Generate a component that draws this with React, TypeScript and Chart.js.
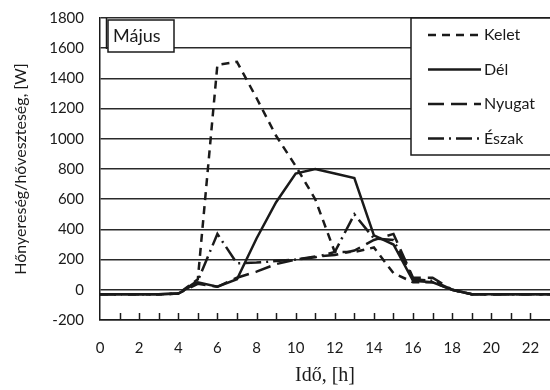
import React, { useEffect, useRef } from "react";
import { Chart, registerables } from "chart.js";
Chart.register(...registerables);

const hours = [0, 1, 2, 3, 4, 5, 6, 7, 8, 9, 10, 11, 12, 13, 14, 15, 16, 17, 18, 19, 20, 21, 22, 23];
const kelet = [-30, -30, -30, -30, -25, 70, 1490, 1510, 1270, 1020, 820, 600, 250, 250, 280, 110, 50, 50, 0, -30, -30, -30, -30, -30];
const del = [-30, -30, -30, -30, -25, 50, 20, 70, 340, 580, 770, 800, 770, 740, 360, 300, 60, 50, 0, -30, -30, -30, -30, -30];
const nyugat = [-30, -30, -30, -30, -25, 40, 20, 80, 120, 170, 200, 220, 230, 260, 330, 370, 80, 80, 0, -30, -30, -30, -30, -30];
const eszak = [-30, -30, -30, -30, -25, 60, 370, 175, 180, 190, 200, 215, 250, 500, 340, 330, 70, 60, 0, -30, -30, -30, -30, -30];
const seriesNames = ["Kelet", "Dél", "Nyugat", "Észak"];
const dashes = [[8, 6], [], [16, 7], [16, 5, 2, 5]];
const xTickLabels = [0, 2, 4, 6, 8, 10, 12, 14, 16, 18, 20, 22];
const yTickMin = -200;
const yTickMax = 1800;
const yStep = 200;
const boxLabel = "Május";
const yTitle = "Hőnyereség/hőveszteség, [W]";
const xTitle = "Idő, [h]";

const INK = "#1a1a1a";
const SANS = "Lato, 'Open Sans', sans-serif";

const decorPlugin = {
  id: "decor",
  afterDatasetsDraw(chart: any) {
    const { ctx, chartArea, scales } = chart;
    const xs = scales.x;
    ctx.save();
    ctx.strokeStyle = INK;
    ctx.lineWidth = 1.5;
    for (let h = 1; h <= 22; h++) {
      const px = Math.round(xs.getPixelForValue(h)) + 0.5;
      ctx.beginPath();
      ctx.moveTo(px, chartArea.bottom);
      ctx.lineTo(px, chartArea.bottom - 7);
      ctx.stroke();
    }
    const mx = chartArea.left + 8;
    const my = chartArea.top + 2;
    ctx.fillStyle = "#fff";
    ctx.fillRect(mx, my, 66, 32);
    ctx.lineWidth = 1.5;
    ctx.strokeStyle = INK;
    ctx.strokeRect(mx, my, 66, 32);
    ctx.beginPath();
    ctx.moveTo(mx - 1.5, chartArea.top);
    ctx.lineTo(mx - 1.5, my + 29);
    ctx.stroke();
    ctx.fillStyle = INK;
    ctx.font = `18px ${SANS}`;
    ctx.textBaseline = "middle";
    ctx.textAlign = "left";
    ctx.fillText(boxLabel, mx + 5, my + 16);
    const lx = chartArea.right - 139;
    const ly = chartArea.top;
    ctx.fillStyle = "#fff";
    ctx.fillRect(lx, ly, 140, 137);
    ctx.strokeStyle = INK;
    ctx.lineWidth = 1.5;
    ctx.strokeRect(lx, ly, 140, 137);
    ctx.font = `16px ${SANS}`;
    chart.data.datasets.forEach((ds: any, i: number) => {
      const yy = ly + 17 + i * 34.5;
      ctx.strokeStyle = INK;
      ctx.lineWidth = 2.5;
      ctx.setLineDash(ds.borderDash || []);
      ctx.beginPath();
      ctx.moveTo(lx + 17, yy);
      ctx.lineTo(lx + 70, yy);
      ctx.stroke();
      ctx.setLineDash([]);
      ctx.fillStyle = INK;
      ctx.fillText(ds.label, lx + 73, yy);
    });
    ctx.restore();
  },
};

export default function App() {
  const ref = useRef<HTMLCanvasElement | null>(null);
  useEffect(() => {
    if (!ref.current) return;
    const series = [kelet, del, nyugat, eszak];
    const chart = new Chart(ref.current, {
      type: "line",
      data: {
        labels: hours,
        datasets: series.map((s, i) => ({
          label: seriesNames[i],
          data: hours.map((h, j) => ({ x: h, y: s[j] })),
          borderColor: INK,
          borderWidth: 2.5,
          borderDash: dashes[i],
          pointRadius: 0,
          tension: 0,
          fill: false,
        })),
      },
      options: {
        animation: false,
        responsive: false,
        maintainAspectRatio: false,
        layout: { padding: { top: 18, right: 0, left: 0, bottom: 0 } },
        plugins: { legend: { display: false }, tooltip: { enabled: false } },
        scales: {
          x: {
            type: "linear",
            min: 0,
            max: 23,
            grid: { display: false, drawTicks: false },
            border: { display: true, color: INK, width: 1.5 },
            afterBuildTicks: (s: any) => {
              s.ticks = xTickLabels.map((v) => ({ value: v }));
            },
            ticks: {
              autoSkip: false,
              maxRotation: 0,
              padding: 19,
              color: INK,
              font: { family: SANS, size: 15 },
              callback: (v: any) => String(v),
            },
            title: {
              display: true,
              text: xTitle,
              color: INK,
              font: { family: "'Liberation Serif', 'DejaVu Serif', serif", size: 20 },
              padding: { top: 0, bottom: 2 },
            },
            afterFit: (s: any) => {
              s.height = 70;
              s.paddingLeft = 0;
              s.paddingRight = 0;
            },
          },
          y: {
            min: yTickMin,
            max: yTickMax,
            grid: { color: "#2a2a2a", lineWidth: 1.5, drawTicks: false },
            border: { display: true, color: INK, width: 1.5 },
            ticks: {
              stepSize: yStep,
              padding: 16,
              color: INK,
              font: { family: SANS, size: 15 },
              callback: (v: any) => String(v),
            },
            title: {
              display: true,
              text: yTitle,
              color: INK,
              font: { family: SANS, size: 16 },
              padding: { top: 11, bottom: 0 },
            },
            afterFit: (s: any) => {
              s.width = 100;
              s.paddingTop = 0;
              s.paddingBottom = 0;
            },
          },
        },
      },
      plugins: [decorPlugin],
    } as any);
    return () => chart.destroy();
  }, []);
  return (
    <div style={{ position: "absolute", left: 0, top: 0, width: 550, height: 390, background: "#fff" }}>
      <canvas ref={ref} width={550} height={390} style={{ display: "block" }} />
    </div>
  );
}
